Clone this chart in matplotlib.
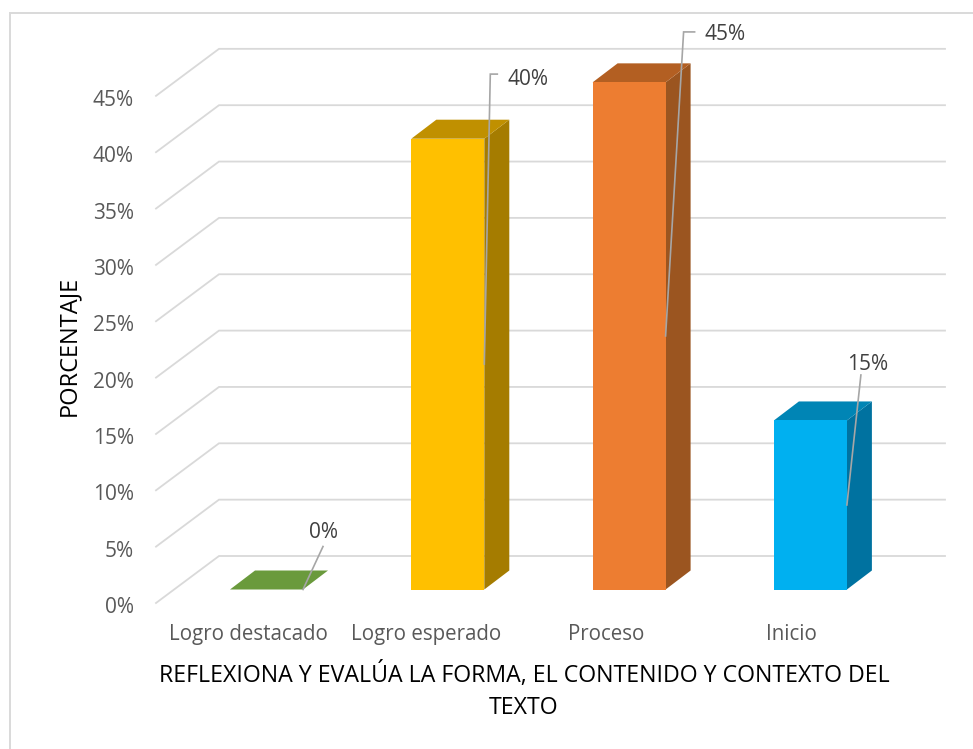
import matplotlib
matplotlib.use("Agg")
import matplotlib.pyplot as plt
from matplotlib.patches import Polygon, Rectangle
from matplotlib.ticker import FuncFormatter
from matplotlib.transforms import ScaledTranslation

categories = ["Logro destacado", "Logro esperado", "Proceso", "Inicio"]
values = [0, 40, 45, 15]
y_ticks = [0, 5, 10, 15, 20, 25, 30, 35, 40, 45]
x_title = "REFLEXIONA Y EVALÚA LA FORMA, EL CONTENIDO Y CONTEXTO DEL\nTEXTO"
y_title = "PORCENTAJE"

front_colors = ["#70AD47", "#FFC000", "#ED7D31", "#00B0F0"]
top_colors = ["#6A9A3C", "#C09000", "#B35F22", "#0085B5"]
side_colors = ["#5A8A34", "#A57C00", "#9B5520", "#0072A0"]
# label position (px from anchor) and leader elbow
label_dx = [20, 44, 59, 21]
label_dy = [57, 285, 301, 140]
elbow_dx = [20, 6, 18, 14]
elbow_dy = [43, 290, 304, 130]
elbow_end = [0, 7, 11, 0]
tick_shift = [-0.1, -0.12, -0.125, -0.105]

W, H = 973, 749
plt.rcParams["font.family"] = ["Open Sans", "DejaVu Sans"]
fig = plt.figure(figsize=(W / 100, H / 100), dpi=100)
fig.add_artist(Rectangle((10 / W, -0.02), 1.02, 1 - 13 / H + 0.02, transform=fig.transFigure,
                         fill=False, ec="#D9D9D9", lw=1.4))

L, R, B, T = 156, 945, 603, 40
ax = fig.add_axes([L / W, 1 - B / H, (R - L) / W, (B - T) / H])
px_x, px_y = 181.3, 11.27
ax.set_xlim((L - 266.5) / px_x, (R - 266.5) / px_x)
ax.set_ylim(0, (B - T) / px_y)
ax.patch.set_visible(False)
for s in ax.spines.values():
    s.set_visible(False)

wall_dx, wall_dy = 63 / px_x, 47 / px_y
x0 = ax.get_xlim()[0]
grid = "#D9D9D9"
for v in y_ticks:
    ax.plot([x0, x0 + wall_dx, ax.get_xlim()[1]], [v, v + wall_dy, v + wall_dy],
            color=grid, lw=1.3, zorder=1, solid_joinstyle="miter", clip_on=False)

w = 73 / px_x
dx, dy = 25 / px_x, 19 / px_y
base = 13.5 / px_y
for i, v in enumerate(values):
    l, r = i - w / 2, i + w / 2
    y0, y1 = base, base + v
    if v > 0:
        ax.add_patch(Polygon([(r, y0), (r + dx, y0 + dy), (r + dx, y1 + dy), (r, y1)],
                             fc=side_colors[i], ec="none", zorder=3))
    ax.add_patch(Polygon([(l, y1), (r, y1), (r + dx, y1 + dy), (l + dx, y1 + dy)],
                         fc=top_colors[i], ec="none", zorder=3))
    if v > 0:
        ax.add_patch(Polygon([(l, y0), (r, y0), (r, y1), (l, y1)],
                             fc=front_colors[i], ec="none", zorder=4))
    ax_, ay_ = r, y0 + v / 2
    ex, ey = ax_ + elbow_dx[i] / px_x, ay_ + elbow_dy[i] / px_y
    xs, ys = [ax_, ex], [ay_, ey]
    if elbow_end[i]:
        xs.append(ex + elbow_end[i] / px_x)
        ys.append(ey)
    ax.plot(xs, ys, color="#A6A6A6", lw=1.2, zorder=5, solid_joinstyle="miter", clip_on=False)
    ax.text(ax_ + label_dx[i] / px_x, ay_ + label_dy[i] / px_y,
            f"{v}%", ha="center", va="center", fontsize=15, color="#404040", zorder=6)

ax.set_yticks(y_ticks)
ax.yaxis.set_major_formatter(FuncFormatter(lambda v, _: f"{int(v)}%"))
ax.set_xticks([i + s for i, s in enumerate(tick_shift)])
ax.set_xticklabels(categories)
ax.tick_params(axis="both", length=0, labelcolor="#595959")
ax.tick_params(axis="y", pad=16, labelsize=15)
ax.tick_params(axis="x", pad=15, labelsize=14.8)
shift = ScaledTranslation(0, -2 / 100, fig.dpi_scale_trans)
for t in ax.get_yticklabels():
    t.set_transform(t.get_transform() + shift)

fig.text(524 / W, 1 - 691 / H, x_title, ha="center", va="center", fontsize=16.7, color="black", linespacing=1.42)
fig.text(69 / W, 1 - 346 / H, y_title, ha="center", va="center", rotation=90, fontsize=17, color="black")

fig.savefig("out.png", dpi=100)
